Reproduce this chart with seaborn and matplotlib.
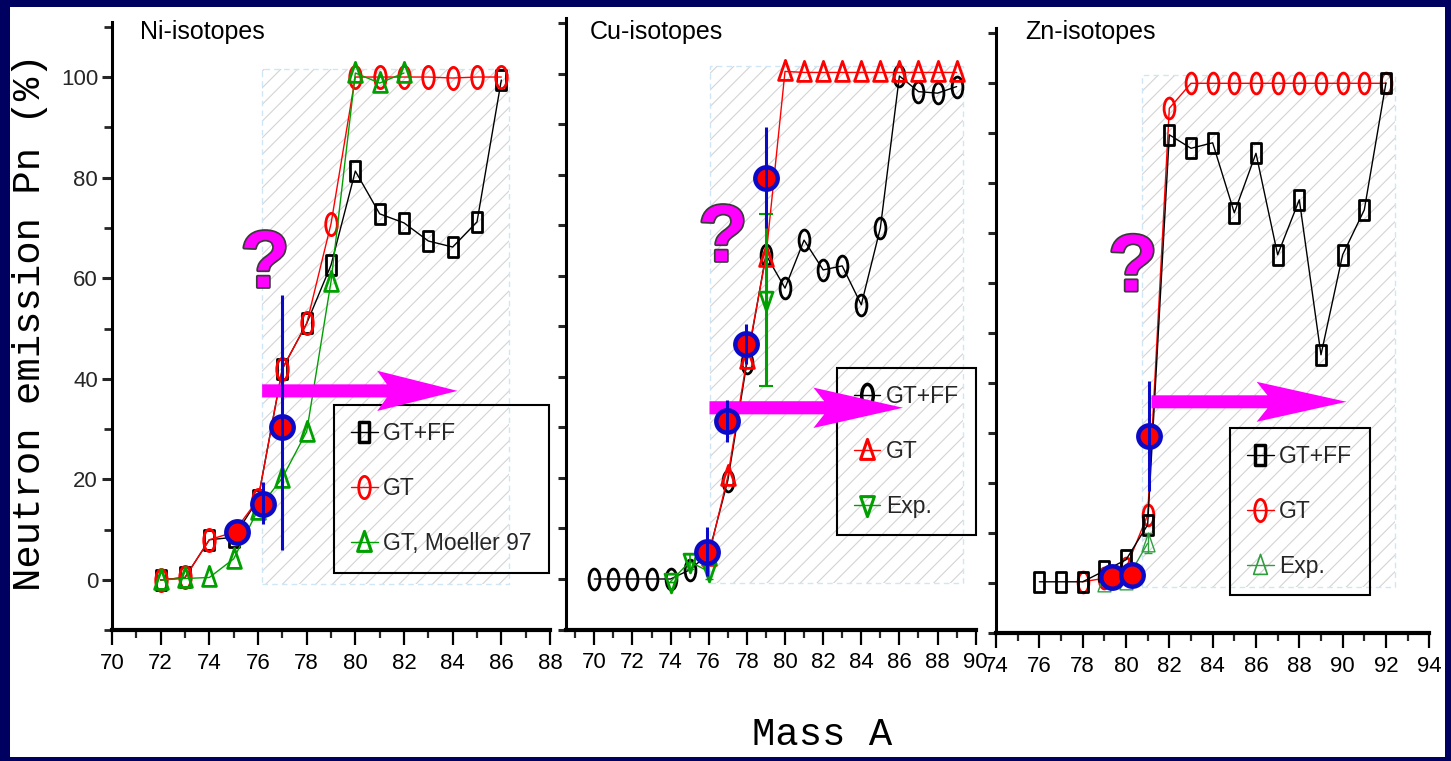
import matplotlib
matplotlib.use("Agg")
import matplotlib.pyplot as plt
import seaborn as sns
import pandas as pd
from matplotlib.patches import Rectangle, FancyArrow
from matplotlib.path import Path
from matplotlib.transforms import Affine2D
from matplotlib.lines import Line2D
from matplotlib.ticker import MultipleLocator, NullFormatter
import matplotlib.patheffects as pe

# ---------------- data ----------------
# Ni isotopes
ni_mass = [72, 73, 74, 75, 76, 77, 78, 79, 80, 81, 82, 83, 84, 85, 86]
ni_gtff = [0.0, 0.5, 8.0, 8.5, 16.0, 42.0, 51.0, 62.6, 81.3, 72.8, 71.0, 67.4, 66.2, 71.2, 99.4]
ni_gt = [0.0, 0.5, 8.0, 9.5, 16.0, 42.0, 51.0, 70.8, 100.0, 100.0, 100.0, 100.0, 99.8, 100.0, 100.0]
ni_m97_mass = [72, 73, 74, 75, 76, 77, 78, 79, 80, 81, 82]
ni_m97 = [0.0, 0.3, 0.5, 4.2, 14.0, 20.3, 29.5, 59.3, 100.8, 98.8, 100.8]
ni_meas_mass = [75.12, 76.22, 76.97]
ni_meas = [9.6, 15.1, 30.5]
ni_meas_lo = [0.0, 4.0, 24.5]
ni_meas_hi = [0.0, 4.4, 26.2]

# Cu isotopes
cu_mass = [70, 71, 72, 73, 74, 75, 76, 77, 78, 79, 80, 81, 82, 83, 84, 85, 86, 87, 88, 89]
cu_gtff = [0.0, 0.0, 0.0, 0.0, 0.0, 1.8, 5.0, 19.5, 42.8, 64.2, 57.6, 67.1, 61.2, 62.0, 54.3, 69.5, 99.6, 96.5, 96.2, 97.5]
cu_gt_mass = [76, 77, 78, 79, 80, 81, 82, 83, 84, 85, 86, 87, 88, 89]
cu_gt = [4.5, 20.3, 43.5, 63.8, 100.5, 100.3, 100.3, 100.3, 100.3, 100.3, 100.3, 100.3, 100.3, 100.3]
cu_exp_mass = [74, 75, 76]
cu_exp = [-0.5, 3.4, 1.5]
cu_exp_err = [0.0, 1.5, 1.5]
cu_exp2_mass = [79]
cu_exp2 = [55.2]
cu_exp2_err = [17.0]
cu_meas_mass = [75.9, 76.97, 77.95, 78.99]
cu_meas = [5.4, 31.3, 46.5, 79.4]
cu_meas_err = [4.8, 4.2, 4.0, 10.0]

# Zn isotopes
zn_mass = [76, 77, 78, 79, 80, 81, 82, 83, 84, 85, 86, 87, 88, 89, 90, 91, 92]
zn_gtff = [0.3, 0.3, 0.3, 2.5, 4.7, 11.7, 89.7, 87.0, 88.1, 74.1, 86.0, 65.7, 76.7, 45.7, 65.7, 74.7, 100.1]
zn_gt_mass = [78, 79, 80, 81, 82, 83, 84, 85, 86, 87, 88, 89, 90, 91, 92]
zn_gt = [0.3, 1.0, 3.0, 13.7, 95.0, 100.0, 100.0, 100.0, 100.0, 100.0, 100.0, 100.0, 100.0, 100.0, 100.0]
zn_exp_mass = [79, 80, 81]
zn_exp = [0.0, 0.5, 8.0]
zn_exp_err = [0.0, 0.0, 2.0]
zn_meas_mass = [79.34, 80.26, 81.06]
zn_meas = [1.3, 1.7, 29.5]
zn_meas_err = [0.0, 0.0, 11.0]

panel_titles = ["Ni-isotopes", "Cu-isotopes", "Zn-isotopes"]
ni_labels = ["GT+FF", "GT", "GT, Moeller 97"]
cu_labels = ["GT+FF", "GT", "Exp."]
zn_labels = ["GT+FF", "GT", "Exp."]

# shaded region (x0, x1) and arrow (x start, x tip, y) per panel
shade_x = [(76.17, 86.3), (76.06, 89.35), (80.72, 92.4)]
arrow_x = [(76.17, 84.2), (76.04, 86.19), (81.18, 90.18)]
arrow_y = [37.6, 33.9, 36.3]
qmark_xy = [(76.29, 62.4), (76.75, 67.1), (80.32, 62.7)]

# ---------------- style ----------------
sns.set_theme(style="white")
plt.rcParams['font.family'] = ['Liberation Sans', 'DejaVu Sans']
plt.rcParams['hatch.linewidth'] = 0.8

RECT = Path([(-0.45, -1), (0.45, -1), (0.45, 1), (-0.45, 1), (-0.45, -1)], closed=True)
ELLIPSE = Path.unit_circle().transformed(Affine2D().scale(0.52, 1.0))
TRI_UP = Path([(-0.62, -0.8), (0.62, -0.8), (0, 1.0), (-0.62, -0.8)], closed=True)
TRI_DN = TRI_UP.transformed(Affine2D().scale(1, -1))

BLACK = "#000000"
RED = "#FF0000"
GREEN = "#00A000"
GREEN2 = "#2E9E3E"
MAGENTA = "#FF00FF"
BLUE = "#0A0AC8"

W, H = 1451, 761
fig = plt.figure(figsize=(W / 100, H / 100), dpi=100)
fig.patch.set_facecolor("#000060")
fig.patches.append(Rectangle((10 / W, 1 - 757 / H), 1435 / W, 750 / H,
                             transform=fig.transFigure, facecolor="white",
                             edgecolor="none", zorder=-5))

def px_rect(l, r, t, b):
    return [l / W, 1 - b / H, (r - l) / W, (b - t) / H]

ax_ni = fig.add_axes(px_rect(112, 550, 21.7, 630.3))
ax_cu = fig.add_axes(px_rect(565.7, 975.7, 18.4, 629.5))
ax_zn = fig.add_axes(px_rect(996, 1429.3, 28.3, 633.3))
axes = [ax_ni, ax_cu, ax_zn]
xlims = [(70, 88), (68.5, 90), (74, 94)]


def series(ax, x, y, color, marker, ms, mew, lw=1.0, z=3):
    df = pd.DataFrame({"A": x, "Pn": y})
    sns.lineplot(data=df, x="A", y="Pn", ax=ax, color=color, lw=lw,
                 marker=marker, markersize=ms, markerfacecolor="none",
                 markeredgecolor=color, markeredgewidth=mew,
                 errorbar=None, sort=False, zorder=z, legend=False)


def measured(ax, x, y, lo, hi):
    df = pd.DataFrame({"A": x, "Pn": y})
    ax.errorbar(x, y, yerr=[lo, hi], fmt="none", ecolor=BLUE, elinewidth=2.2,
                capsize=0, zorder=9)
    sns.scatterplot(data=df, x="A", y="Pn", ax=ax, s=260, color=RED,
                    edgecolor=BLUE, linewidth=3.2, zorder=8, legend=False)


for i, ax in enumerate(axes):
    ax.set_facecolor("none")
    ax.set_xlim(*xlims[i])
    ax.set_ylim(-10, 111)
    for s in ["top", "right"]:
        ax.spines[s].set_visible(False)
    ax.spines["left"].set_linewidth(2.2)
    ax.spines["bottom"].set_linewidth(3.0)
    for s in ["left", "bottom"]:
        ax.spines[s].set_color("black")
    ax.xaxis.set_major_locator(MultipleLocator(2))
    ax.xaxis.set_minor_locator(MultipleLocator(1))
    ax.tick_params(axis="x", which="major", direction="out", length=11, width=1.6,
                   pad=5, labelsize=16, colors="black", bottom=True)
    ax.tick_params(axis="x", which="minor", direction="out", length=6, width=1.6, bottom=True)
    if i == 0:
        ax.yaxis.set_major_locator(MultipleLocator(20))
        ax.yaxis.set_minor_locator(MultipleLocator(10))
        ax.tick_params(axis="y", which="major", direction="out", length=7, width=2.2,
                       pad=3, labelsize=16, left=True)
        ax.tick_params(axis="y", which="minor", direction="out", length=6, width=2.0, left=True)
    else:
        ax.yaxis.set_major_locator(MultipleLocator(10))
        ax.yaxis.set_major_formatter(NullFormatter())
        ax.tick_params(axis="y", which="major", direction="out", length=6, width=2.2, left=True)
    # hatched region
    x0, x1 = shade_x[i]
    ax.add_patch(Rectangle((x0, -0.7), x1 - x0, 102.3, facecolor="none",
                           edgecolor="#D4D4D4", hatch="//", lw=0, zorder=0.5))
    ax.add_patch(Rectangle((x0, -0.7), x1 - x0, 102.3, facecolor="none",
                           edgecolor="#CFE6F7", ls=(0, (4, 3)), lw=1.0, zorder=0.6))
    # title
    ax.text([0.064, 0.059, 0.067][i], [0.983, 0.978, 0.994][i], panel_titles[i],
            transform=ax.transAxes, fontsize=18, ha="left", va="center", color="black")
    # arrow
    xs, xt = arrow_x[i]
    ax.add_patch(FancyArrow(xs, arrow_y[i], xt - xs, 0, width=2.6,
                            head_width=8.0, head_length=[3.3, 4.7, 4.15][i],
                            length_includes_head=True, overhang=0.12,
                            color=MAGENTA, lw=0, zorder=6))
    # question mark
    qx, qy = qmark_xy[i]
    ax.text(qx, qy, "?", fontsize=58, fontweight="bold", color=MAGENTA,
            ha="center", va="center", zorder=7,
            path_effects=[pe.withStroke(linewidth=2.5, foreground="#3a3a3a")])

# Ni
series(ax_ni, ni_mass, ni_gtff, BLACK, RECT, 14.5, 2.0, z=3)
series(ax_ni, ni_mass, ni_gt, RED, ELLIPSE, 16, 2.0, z=3.2)
series(ax_ni, ni_m97_mass, ni_m97, GREEN, TRI_UP, 16, 2.0, z=3.4)
measured(ax_ni, ni_meas_mass, ni_meas, ni_meas_lo, ni_meas_hi)

# Cu
series(ax_cu, cu_mass, cu_gtff, BLACK, ELLIPSE, 15, 2.0, z=3)
series(ax_cu, cu_gt_mass, cu_gt, RED, TRI_UP, 16, 2.0, z=3.2)
series(ax_cu, cu_exp_mass, cu_exp, GREEN, TRI_DN, 15, 2.0, z=3.4)
ax_cu.errorbar(cu_exp_mass, cu_exp, yerr=cu_exp_err, fmt="none", ecolor=GREEN,
               elinewidth=1.2, capsize=3, zorder=3.4)
ax_cu.errorbar(cu_exp2_mass, cu_exp2, yerr=cu_exp2_err, fmt="none", ecolor=GREEN,
               elinewidth=2.2, capsize=5, capthick=1.5, zorder=3.5)
series(ax_cu, cu_exp2_mass, cu_exp2, GREEN, TRI_DN, 15, 2.0, z=3.6)
measured(ax_cu, cu_meas_mass, cu_meas, cu_meas_err, cu_meas_err)

# Zn
series(ax_zn, zn_mass, zn_gtff, BLACK, RECT, 14.5, 2.0, z=3.2)
series(ax_zn, zn_gt_mass, zn_gt, RED, ELLIPSE, 15, 2.0, z=3)
series(ax_zn, zn_exp_mass, zn_exp, GREEN2, TRI_UP, 15, 1.0, z=3.4)
ax_zn.errorbar(zn_exp_mass, zn_exp, yerr=zn_exp_err, fmt="none", ecolor=GREEN2,
               elinewidth=1.0, capsize=3, zorder=3.4)
measured(ax_zn, zn_meas_mass, zn_meas, zn_meas_err, zn_meas_err)

for ax in axes:
    ax.set_xlabel("")
    ax.set_ylabel("")

# legends
def handle(color, marker, ms, mew):
    return Line2D([], [], color=color, lw=1.0, marker=marker, markersize=ms,
                  markerfacecolor="none", markeredgecolor=color, markeredgewidth=mew)

leg_specs = [
    (ax_ni, [handle(BLACK, RECT, 14.5, 2.5), handle(RED, ELLIPSE, 16, 2.0),
             handle(GREEN, TRI_UP, 16, 2.2)], ni_labels, (0.507, 0.370)),
    (ax_cu, [handle(BLACK, ELLIPSE, 16, 2.5), handle(RED, TRI_UP, 16, 2.2),
             handle(GREEN, TRI_DN, 16, 2.2)], cu_labels, (0.661, 0.428)),
    (ax_zn, [handle(BLACK, RECT, 14.5, 2.5), handle(RED, ELLIPSE, 16, 2.0),
             handle(GREEN2, TRI_UP, 16, 1.2)], zn_labels, (0.540, 0.340)),
]
for ax, hs, labs, anchor in leg_specs:
    leg = ax.legend(hs, labs, loc="upper left", bbox_to_anchor=anchor,
                    borderaxespad=0, frameon=True, fancybox=False,
                    edgecolor="black", facecolor="none", framealpha=1,
                    fontsize=16.5, handlelength=1.15, handletextpad=0.25,
                    labelspacing=1.4, borderpad=0.75)
    leg.get_frame().set_linewidth(1.5)
    leg.set_zorder(5)

# axis labels
fig.text(30 / W, 1 - 322 / H, "Neutron emission Pn (%)", rotation=90,
         ha="center", va="center", fontsize=28, family=["Liberation Mono", "DejaVu Sans Mono"],
         color="black")
fig.text(822 / W, 1 - 735 / H, "Mass A", ha="center", va="center", fontsize=28,
         family=["Liberation Mono", "DejaVu Sans Mono"], color="black")

fig.savefig("out.png", dpi=100, facecolor=fig.get_facecolor())
